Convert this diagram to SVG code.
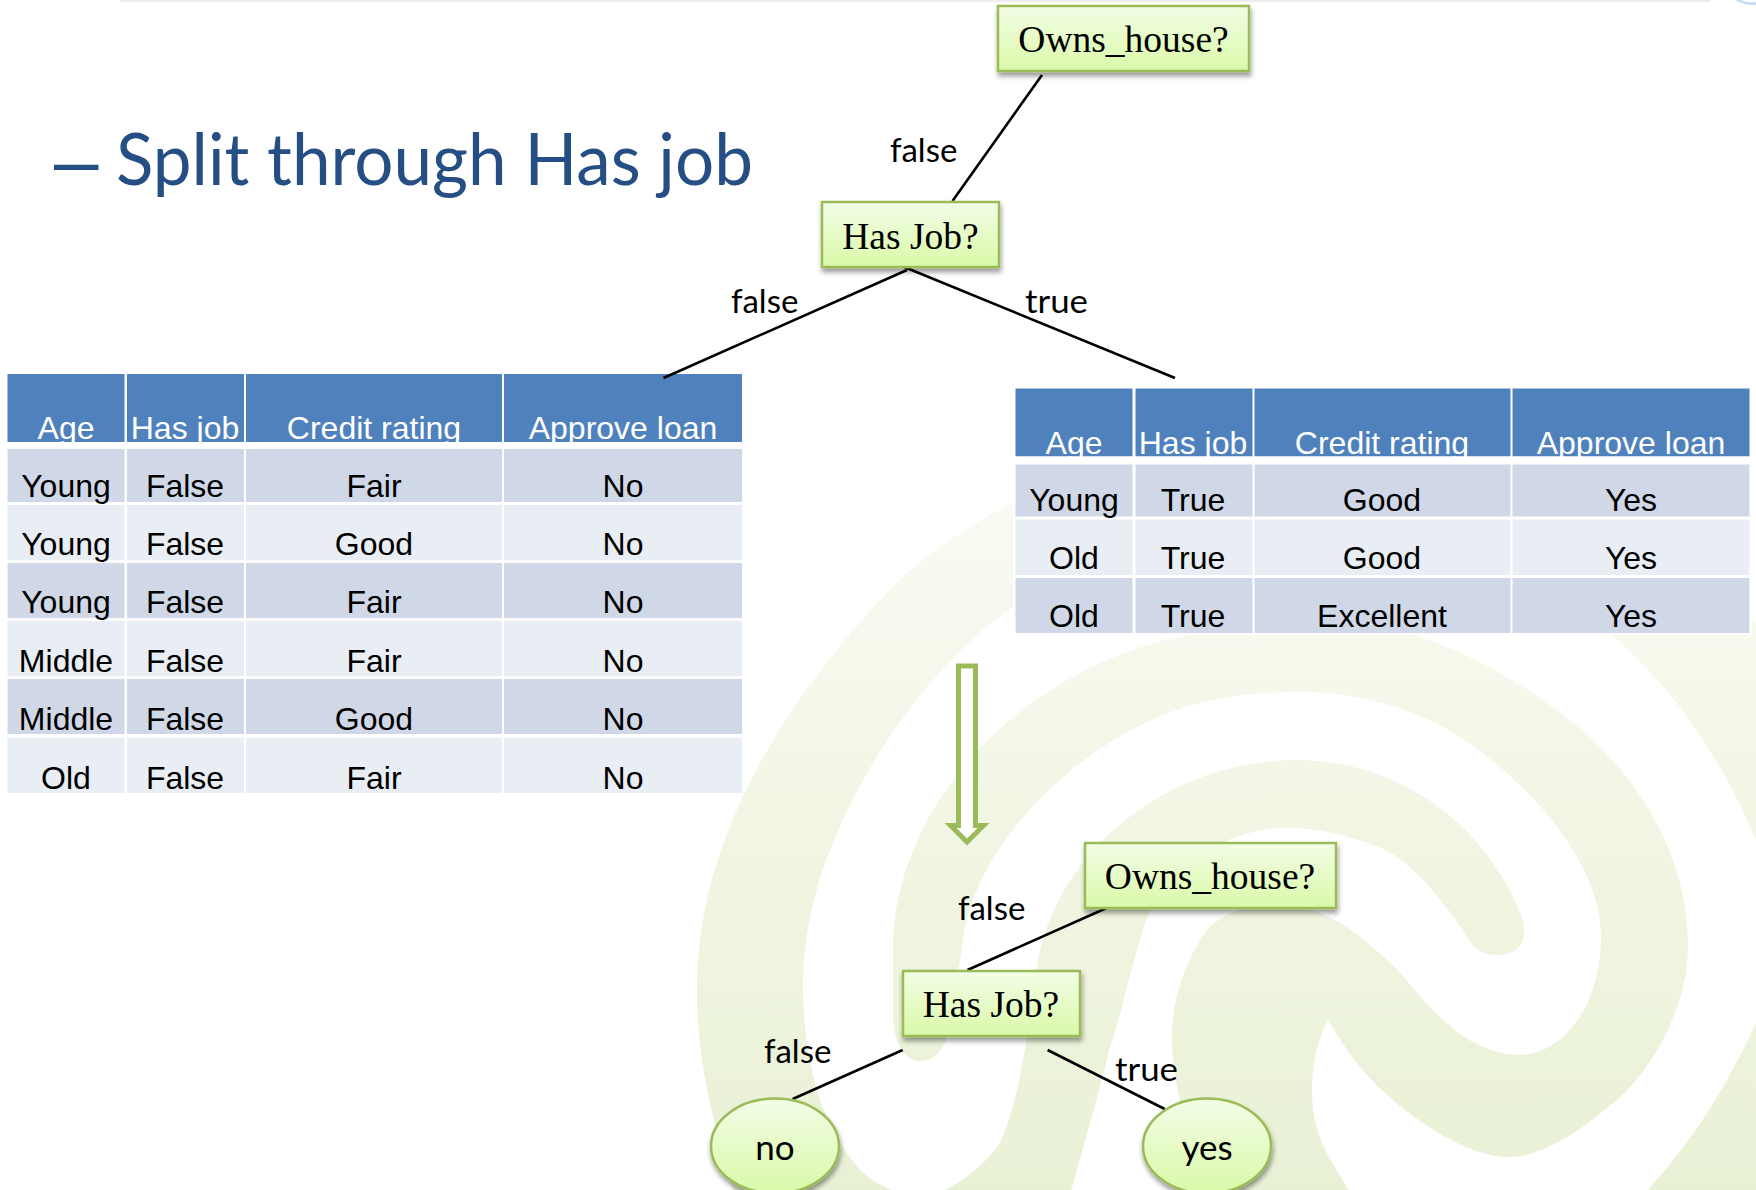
<svg xmlns="http://www.w3.org/2000/svg" width="1756" height="1190" viewBox="0 0 1756 1190">
<style>
.h{fill:#4F81BD}.o{fill:#D0D8E8}.e{fill:#E9EDF4}
.c{font-family:"Liberation Sans",Arial,sans-serif;font-size:32px;text-anchor:middle;fill:#000}
.w{fill:#fff}
.hd{fill:#fff}
.n{fill:url(#nodeFill);stroke:#9BBB59;stroke-width:2.5;filter:url(#sh)}
.t{font-family:"Liberation Serif","Times New Roman",serif;font-size:37.5px;text-anchor:middle;fill:#000}
.l{font-family:Lato,"Open Sans",sans-serif;font-size:33px;fill:#000}
.line{stroke:#000;stroke-width:2.6;fill:none}
</style>
<defs>
<linearGradient id="nodeFill" x1="0" y1="0" x2="0" y2="1"><stop offset="0" stop-color="#F3FDE6"/><stop offset="1" stop-color="#DAF9A8"/></linearGradient>
<linearGradient id="swirl" gradientUnits="userSpaceOnUse" x1="0" y1="480" x2="0" y2="1190"><stop offset="0" stop-color="#FAFBF4"/><stop offset="0.45" stop-color="#F2F6E5"/><stop offset="1" stop-color="#E9F1D5"/></linearGradient>
<filter id="sh" x="-10%" y="-10%" width="120%" height="130%"><feDropShadow dx="1" dy="4" stdDeviation="2.5" flood-color="#000" flood-opacity="0.4"/></filter>
</defs>
<rect width="1756" height="1190" fill="#fff"/>
<rect x="120" y="0" width="1590" height="2" fill="#EDEDED"/>
<path d="M1735 0 Q1745 6 1756 5 L1756 2 Q1745 3 1742 0Z" fill="#C6DCF2"/>
<g id="swirl-bg" fill="url(#swirl)">
<path d="M735 1195 C712 1120 697 1060 697 990 C697 850 770 720 880 600 C960 515 1100 440 1300 440 C1480 440 1640 520 1800 660 L1800 920 L1756 840 C1735 790 1690 700 1609 633 C1510 560 1400 535 1280 535 C1180 535 1080 560 1013 607 C925 665 803 830 803 985 C803 1070 825 1130 860 1170 C875 1185 900 1195 920 1197 C950 1195 985 1165 1000 1143 C1020 1100 1028 1030 1037 967 C1055 850 1170 760 1296 760 C1390 760 1480 815 1520 912 C1530 938 1522 955 1497 955 C1484 955 1475 950 1469 940 C1450 910 1420 870 1386 850 C1350 835 1310 826 1280 828 C1215 832 1160 875 1143 930 C1130 970 1120 1020 1110 1047 C1100 1090 1085 1140 1070 1195Z"/>
<path d="M893 950 C893 800 1030 660 1200 633 C1240 625 1280 620 1320 620 C1410 620 1500 665 1570 720 C1640 775 1690 860 1688 950 C1686 1020 1640 1085 1608 1107 C1570 1140 1535 1157 1509 1157 C1470 1157 1420 1125 1385 1093 C1365 1075 1345 1050 1328 1020 C1312 1050 1308 1090 1316 1125 C1322 1150 1337 1170 1352 1195 L1210 1195 C1190 1140 1172 1090 1172 1035 C1172 1000 1185 960 1207 930 C1225 910 1260 900 1290 905 C1340 912 1370 945 1395 967 C1420 995 1450 1035 1484 1047 C1497 1053 1508 1055 1519 1055 C1560 1055 1601 1010 1601 935 C1601 860 1520 770 1440 725 C1390 700 1340 692 1303 692 C1260 692 1230 695 1200 703 C1090 730 975 840 963 940 C958 970 955 1000 950 1025 C945 1050 935 1061 920 1061 C905 1061 895 1045 893 1020Z"/>
<path d="M1756 1023 C1725 1090 1690 1145 1643 1195 L1800 1195 L1800 1023Z"/>
</g>
<text id="title" font-family="Lato,'Open Sans',sans-serif" font-size="72" fill="#254E84"><tspan x="54" y="188" font-family="'Liberation Sans',sans-serif" font-size="80">–</tspan> <tspan x="116" y="185" textLength="637" lengthAdjust="spacingAndGlyphs">Split through Has job</tspan></text>
<g id="table-left">
<rect class="h" x="7.5" y="374" width="117" height="68"/><rect class="h" x="127" y="374" width="117" height="68"/><rect class="h" x="246" y="374" width="256" height="68"/><rect class="h" x="504" y="374" width="238" height="68"/>
<text class="c hd" x="66" y="439">Age</text><text class="c hd" x="185" y="439">Has job</text><text class="c hd" x="374" y="439">Credit rating</text><text class="c hd" x="623" y="439">Approve loan</text>
<rect class="w" x="5" y="442" width="740" height="7"/>
<g class="o"><rect x="7.5" y="449" width="117" height="53"/><rect x="127" y="449" width="117" height="53"/><rect x="246" y="449" width="256" height="53"/><rect x="504" y="449" width="238" height="53"/></g>
<g class="e"><rect x="7.5" y="505" width="117" height="55"/><rect x="127" y="505" width="117" height="55"/><rect x="246" y="505" width="256" height="55"/><rect x="504" y="505" width="238" height="55"/></g>
<g class="o"><rect x="7.5" y="563" width="117" height="55"/><rect x="127" y="563" width="117" height="55"/><rect x="246" y="563" width="256" height="55"/><rect x="504" y="563" width="238" height="55"/></g>
<g class="e"><rect x="7.5" y="621" width="117" height="55"/><rect x="127" y="621" width="117" height="55"/><rect x="246" y="621" width="256" height="55"/><rect x="504" y="621" width="238" height="55"/></g>
<g class="o"><rect x="7.5" y="679" width="117" height="55"/><rect x="127" y="679" width="117" height="55"/><rect x="246" y="679" width="256" height="55"/><rect x="504" y="679" width="238" height="55"/></g>
<g class="e"><rect x="7.5" y="737.500" width="117" height="55.500"/><rect x="127" y="737.500" width="117" height="55.500"/><rect x="246" y="737.500" width="256" height="55.500"/><rect x="504" y="737.500" width="238" height="55.500"/></g>
<text class="c" x="66" y="497">Young</text><text class="c" x="185" y="497">False</text><text class="c" x="374" y="497">Fair</text><text class="c" x="623" y="497">No</text>
<text class="c" x="66" y="555">Young</text><text class="c" x="185" y="555">False</text><text class="c" x="374" y="555">Good</text><text class="c" x="623" y="555">No</text>
<text class="c" x="66" y="613">Young</text><text class="c" x="185" y="613">False</text><text class="c" x="374" y="613">Fair</text><text class="c" x="623" y="613">No</text>
<text class="c" x="66" y="671.500">Middle</text><text class="c" x="185" y="671.500">False</text><text class="c" x="374" y="671.500">Fair</text><text class="c" x="623" y="671.500">No</text>
<text class="c" x="66" y="729.500">Middle</text><text class="c" x="185" y="729.500">False</text><text class="c" x="374" y="729.500">Good</text><text class="c" x="623" y="729.500">No</text>
<text class="c" x="66" y="788.500">Old</text><text class="c" x="185" y="788.500">False</text><text class="c" x="374" y="788.500">Fair</text><text class="c" x="623" y="788.500">No</text>
</g>
<g id="table-right">
<rect class="w" x="1013" y="386" width="739" height="249"/>
<rect class="h" x="1015.500" y="388.500" width="117" height="68"/><rect class="h" x="1135.500" y="388.500" width="117" height="68"/><rect class="h" x="1254.500" y="388.500" width="256" height="68"/><rect class="h" x="1512.500" y="388.500" width="237" height="68"/>
<text class="c hd" x="1074" y="453.500">Age</text><text class="c hd" x="1193" y="453.500">Has job</text><text class="c hd" x="1382" y="453.500">Credit rating</text><text class="c hd" x="1631" y="453.500">Approve loan</text>
<rect class="w" x="1013" y="456.500" width="739" height="8"/>
<g class="o"><rect x="1015.500" y="464.500" width="117" height="52"/><rect x="1135.500" y="464.500" width="117" height="52"/><rect x="1254.500" y="464.500" width="256" height="52"/><rect x="1512.500" y="464.500" width="237" height="52"/></g>
<g class="e"><rect x="1015.500" y="519.500" width="117" height="55.500"/><rect x="1135.500" y="519.500" width="117" height="55.500"/><rect x="1254.500" y="519.500" width="256" height="55.500"/><rect x="1512.500" y="519.500" width="237" height="55.500"/></g>
<g class="o"><rect x="1015.500" y="578" width="117" height="55"/><rect x="1135.500" y="578" width="117" height="55"/><rect x="1254.500" y="578" width="256" height="55"/><rect x="1512.500" y="578" width="237" height="55"/></g>
<text class="c" x="1074" y="511">Young</text><text class="c" x="1193" y="511">True</text><text class="c" x="1382" y="511">Good</text><text class="c" x="1631" y="511">Yes</text>
<text class="c" x="1074" y="569">Old</text><text class="c" x="1193" y="569">True</text><text class="c" x="1382" y="569">Good</text><text class="c" x="1631" y="569">Yes</text>
<text class="c" x="1074" y="627">Old</text><text class="c" x="1193" y="627">True</text><text class="c" x="1382" y="627">Excellent</text><text class="c" x="1631" y="627">Yes</text>
</g>
<g id="connectors">
<line class="line" x1="1042" y1="75" x2="952.500" y2="201"/>
<line class="line" x1="907" y1="270" x2="663.500" y2="378"/>
<line class="line" x1="903" y1="266.500" x2="1175" y2="378"/>
<line class="line" x1="1111" y1="906" x2="967.500" y2="970"/>
<line class="line" x1="902.700" y1="1050" x2="792.700" y2="1099"/>
<line class="line" x1="1047.600" y1="1050" x2="1164.700" y2="1109"/>
<polygon id="flow-arrow" points="958.500,666 975.500,666 975.500,825.500 983.500,825.500 967,842 950.500,825.500 958.500,825.500" fill="#fff" stroke="#9BBB59" stroke-width="5"/>
</g>
<g id="node-owns-top"><rect class="n" x="998" y="6" width="251" height="65"/><text class="t" x="1123.500" y="52">Owns_house?</text></g>
<g id="node-job-top"><rect class="n" x="822" y="202" width="177" height="65"/><text class="t" x="910.500" y="248.500">Has Job?</text></g>
<g id="node-owns-bottom"><rect class="n" x="1085" y="843" width="251" height="65"/><text class="t" x="1210" y="889">Owns_house?</text></g>
<g id="node-job-bottom"><rect class="n" x="903" y="971" width="177" height="65"/><text class="t" x="991" y="1017">Has Job?</text></g>
<g id="node-no"><ellipse class="n" cx="775" cy="1146" rx="64" ry="47.500"/><text x="775" y="1160" text-anchor="middle" class="l" style="font-size:35px">no</text></g>
<g id="node-yes"><ellipse class="n" cx="1207" cy="1146" rx="64" ry="47.500"/><text x="1207" y="1160" text-anchor="middle" class="l" style="font-size:35px">yes</text></g>
<g id="labels">
<text class="l" x="890" y="162">false</text>
<text class="l" x="731" y="312.500">false</text>
<text class="l" x="1025" y="312.500" textLength="63" lengthAdjust="spacingAndGlyphs">true</text>
<text class="l" x="958" y="920">false</text>
<text class="l" x="764" y="1063">false</text>
<text class="l" x="1115" y="1081" textLength="63" lengthAdjust="spacingAndGlyphs">true</text>
</g>
</svg>
